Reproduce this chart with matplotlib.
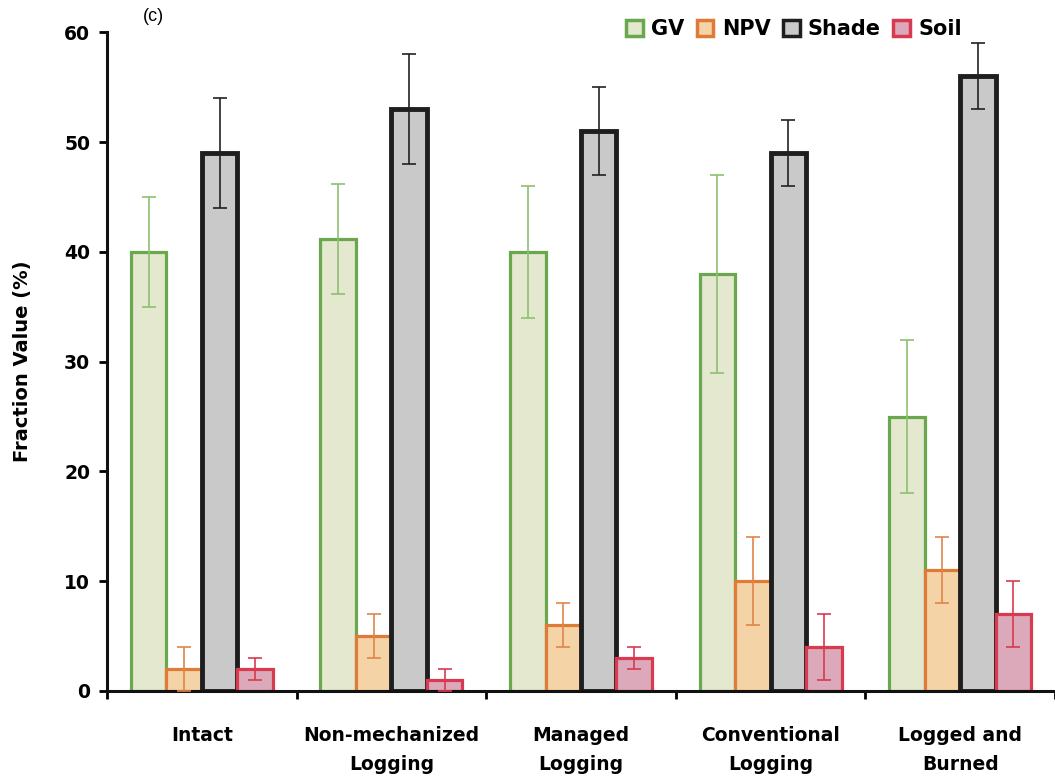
import numpy as np
import matplotlib
matplotlib.use('Agg')
import matplotlib.pyplot as plt
from matplotlib.patches import Patch

plt.rcParams['font.family'] = ['DejaVu Sans']

# --- data ---
categories = ['Intact', 'Non-mechanized\nLogging', 'Managed\nLogging',
              'Conventional\nLogging', 'Logged and\nBurned']
series = ['GV', 'NPV', 'Shade', 'Soil']

gv = [40, 41.2, 40, 38, 25]
gv_err = [5, 5, 6, 9, 7]
npv = [2, 5, 6, 10, 11]
npv_err = [2, 2, 2, 4, 3]
shade = [49, 53, 51, 49, 56]
shade_err = [5, 5, 4, 3, 3]
soil = [2, 1, 3, 4, 7]
soil_err = [1, 1, 1, 3, 3]

values = [gv, npv, shade, soil]
errors = [gv_err, npv_err, shade_err, soil_err]

# fill, edge, errorbar colour per series
fills = ['#e3e8cf', '#f4d4a6', '#c9c9c9', '#dba9ba']
edges = ['#6aa84f', '#e07a38', '#1e1e1e', '#d83a50']
err_cols = ['#8cc070', '#e0844a', '#222222', '#d83a50']

fig = plt.figure(figsize=(10.55, 7.79), dpi=100)
ax = fig.add_axes([0.1014, 0.113, 0.8986, 0.8453])

x = np.arange(len(categories))
w = 0.187
for i, name in enumerate(series):
    pos = x + (i - 1.5) * w
    lw = 3.5 if name == 'Shade' else 2.3
    ax.bar(pos, values[i], width=w, color=fills[i], edgecolor=edges[i],
           linewidth=lw, zorder=2)
    ax.errorbar(pos, values[i], yerr=errors[i], fmt='none', ecolor=err_cols[i],
                elinewidth=1.2, capsize=5, capthick=1.2, zorder=3)

ax.set_xlim(-0.5, 4.5)
ax.set_ylim(0, 60)
ax.set_yticks(np.arange(0, 61, 10))
ax.set_xticks(x)
ax.set_xticklabels(categories, fontsize=13.5, fontweight='bold', linespacing=1.7)
ax.set_xticks(np.arange(-0.5, 4.6, 1), minor=True)
ax.tick_params(axis='x', which='major', length=0, pad=25)
ax.tick_params(axis='x', which='minor', length=6, width=2, direction='out')
ax.tick_params(axis='y', length=6, width=2, labelsize=13.5, pad=6)
for lab in ax.get_yticklabels():
    lab.set_fontweight('bold')

for s in ['top', 'right']:
    ax.spines[s].set_visible(False)
for s in ['left', 'bottom']:
    ax.spines[s].set_linewidth(2.2)
    ax.spines[s].set_color('#111111')

ax.set_ylabel('Fraction Value (%)', fontsize=14, fontweight='bold', labelpad=23)
ax.text(0.038, 1.012, '(c)', transform=ax.transAxes, fontsize=13, va='bottom', ha='left',
        family='Liberation Sans')

handles = [Patch(facecolor=fills[i], edgecolor=edges[i], linewidth=2.5, label=series[i])
           for i in range(len(series))]
leg = fig.legend(handles=handles, ncol=4, loc='upper right',
                 bbox_to_anchor=(962 / 1055, 1 - 19 / 779), borderaxespad=0, borderpad=0,
                 frameon=False, handlelength=0.8, handleheight=0.8, handletextpad=0.4,
                 columnspacing=0.6, prop={'weight': 'bold', 'size': 15})

fig.savefig('out.png', dpi=100)
